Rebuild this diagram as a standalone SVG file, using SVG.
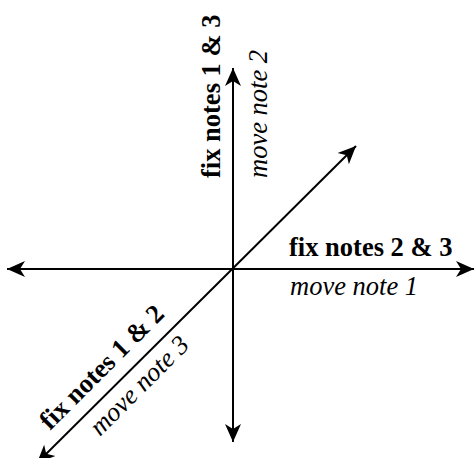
<svg xmlns="http://www.w3.org/2000/svg" width="475" height="458" viewBox="0 0 475 458">
<style>
.ax{stroke:#000;stroke-width:2;fill:none;marker-end:url(#ah);marker-start:url(#ahs)}
.b{font-family:"Liberation Serif","Times New Roman",serif;font-weight:bold;font-size:26.5px;fill:#000}
.i{font-family:"Liberation Serif","Times New Roman",serif;font-style:italic;font-size:26.5px;fill:#000}
</style>
<defs>
<marker id="ah" markerUnits="userSpaceOnUse" markerWidth="20" markerHeight="20" refX="18" refY="8" orient="auto" overflow="visible">
<path d="M18,8 L0,0 L5,8 L0,16 Z" fill="#000"/>
</marker>
<marker id="ahs" markerUnits="userSpaceOnUse" markerWidth="20" markerHeight="20" refX="0" refY="8" orient="auto" overflow="visible">
<path d="M0,8 L18,0 L13,8 L18,16 Z" fill="#000"/>
</marker>
</defs>
<g id="connectors">
<line class="ax" x1="233" y1="442" x2="233" y2="68"/>
<line class="ax" x1="7" y1="269" x2="474" y2="269"/>
<line class="ax" x1="37" y1="463" x2="356" y2="146"/>
</g>
<g id="axis-vertical-labels">
<text class="b" transform="translate(220,178) rotate(-90)">fix notes 1 &amp; 3</text>
<text class="i" transform="translate(267,178) rotate(-90)">move note 2</text>
</g>
<g id="axis-horizontal-labels">
<text class="b" x="289" y="256">fix notes 2 &amp; 3</text>
<text class="i" x="290" y="295">move note 1</text>
</g>
<g id="axis-diagonal-labels">
<text class="b" transform="translate(50,431) rotate(-45)">fix notes 1 &amp; 2</text>
<text class="i" transform="translate(100,437) rotate(-45)">move note 3</text>
</g>
</svg>
